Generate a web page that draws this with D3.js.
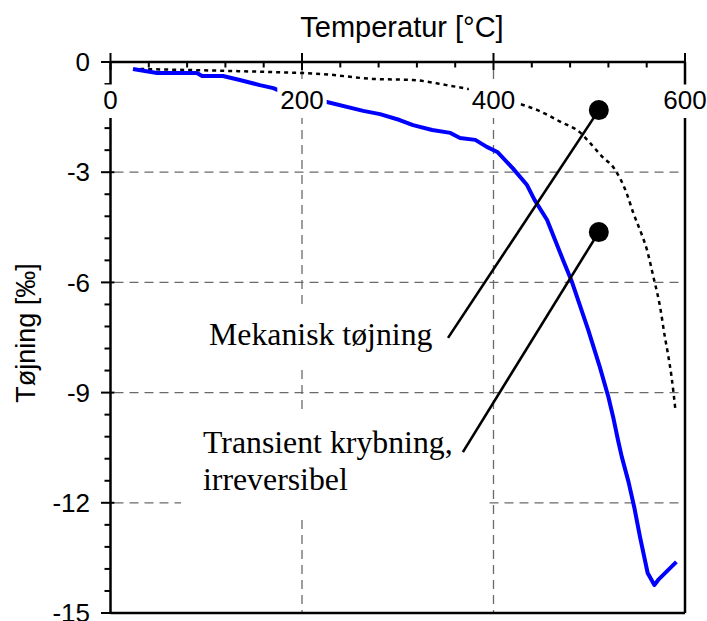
<!DOCTYPE html>
<html>
<head>
<meta charset="utf-8">
<script src="https://cdn.jsdelivr.net/npm/d3@7"></script>
<style>
  html, body { margin: 0; padding: 0; background: #fff; }
  svg { display: block; }
</style>
</head>
<body>
<svg id="chart" width="707" height="621"></svg>
<script>
// Axis ticks and gridlines
const temperatureTicks = [0, 200, 400, 600];
const strainTicks = [0, -3, -6, -9, -12, -15];
const gridTemps = [200, 400];
const gridStrains = [-3, -6, -9, -12];

// Solid blue curve: temperature [°C] and strain [‰]
const solidTemp   = [23.5, 48.6, 90.3, 95.6, 117.5, 135, 156, 170, 180, 226, 264, 281.5, 302, 316, 336, 355, 365, 381, 393, 404, 420, 435, 443, 456, 472.6, 482, 499, 511, 520, 525, 530, 534, 541, 547, 553, 561, 568, 572, 591];
const solidStrain = [-0.19, -0.30, -0.30, -0.38, -0.38, -0.49, -0.63, -0.71, -0.82, -1.09, -1.33, -1.42, -1.58, -1.72, -1.85, -1.93, -2.07, -2.12, -2.31, -2.45, -2.89, -3.35, -3.76, -4.30, -5.39, -5.99, -7.30, -8.30, -9.12, -9.67, -10.29, -10.75, -11.43, -12.12, -12.93, -13.91, -14.24, -14.10, -13.61];

// Dotted black curve
const dottedTemp   = [31, 163, 200, 222, 274, 316, 351, 378, 425, 446, 470, 490, 501, 514, 525, 539, 546, 555, 560, 567, 574, 579, 582, 586, 590];
const dottedStrain = [-0.19, -0.27, -0.30, -0.33, -0.46, -0.49, -0.63, -0.76, -1.12, -1.31, -1.63, -1.91, -2.21, -2.59, -2.86, -3.57, -4.11, -4.71, -5.09, -5.85, -6.67, -7.49, -7.92, -8.58, -9.47];

// Callout annotations: label lines, marker point and line tail (data units)
const calloutLines  = [["Mekanisk tøjning"], ["Transient krybning,", "irreversibel"]];
const calloutTemp   = [510, 510];
const calloutStrain = [-1.31, -4.63];
const tailTemp      = [352.5, 368];
const tailStrain    = [-7.51, -10.62];

const svg = d3.select("#chart");
const x = d3.scaleLinear().domain([0, 600]).range([110.5, 685]);
const y = d3.scaleLinear().domain([0, -15]).range([62, 613]);

const SANS = "'Liberation Sans', Arial, sans-serif";
const SERIF = "'Liberation Serif', 'Times New Roman', serif";

// Dashed gridlines
const grid = svg.append("g")
  .attr("stroke", "#6a6a6a").attr("stroke-width", 1.3).attr("stroke-dasharray", "9,6");
grid.selectAll("line.h").data(gridStrains).join("line")
  .attr("x1", x(0) + 4).attr("x2", x(600))
  .attr("y1", d => y(d)).attr("y2", d => y(d));
grid.selectAll("line.v").data(gridTemps).join("line")
  .attr("x1", d => x(d)).attr("x2", d => x(d))
  .attr("y1", y(0) + 8).attr("y2", y(-15));

// Annotation text blocks with white backing
const labelLayout = [
  { left: 209, baseline: 345, padL: 22, padR: 22, padT: 12, padB: 17 },
  { left: 203, baseline: 453, padL: 22, padR: 34, padT: 16, padB: 17 }
];
calloutLines.forEach((lines, i) => {
  const L = labelLayout[i];
  const g = svg.append("g");
  const t = g.append("text")
    .attr("font-family", SERIF).attr("font-size", 31.8).attr("fill", "#000");
  lines.forEach((s, k) => {
    t.append("tspan").attr("x", L.left).attr("y", L.baseline + k * 37).text(s);
  });
  const bb = t.node().getBBox();
  g.insert("rect", "text")
    .attr("x", bb.x - L.padL).attr("y", bb.y - L.padT)
    .attr("width", bb.width + L.padL + L.padR).attr("height", bb.height + L.padT + L.padB)
    .attr("fill", "#fff");
});

// Curves
const dottedGen = d3.line().x(d => x(d[0])).y(d => y(d[1])).curve(d3.curveMonotoneX);
const solidGen = d3.line().x(d => x(d[0])).y(d => y(d[1]));
svg.append("path")
  .datum(dottedTemp.map((t, i) => [t, dottedStrain[i]]))
  .attr("d", dottedGen)
  .attr("fill", "none").attr("stroke", "#000").attr("stroke-width", 2.5)
  .attr("stroke-dasharray", "4,4");
svg.append("path")
  .datum(solidTemp.map((t, i) => [t, solidStrain[i]]))
  .attr("d", solidGen)
  .attr("fill", "none").attr("stroke", "#0000ff").attr("stroke-width", 4)
  .attr("stroke-linejoin", "round");

// Frame and ticks
const axes = svg.append("g").attr("stroke", "#000").attr("stroke-width", 2.5).attr("fill", "none");
axes.append("line").attr("x1", x(0)).attr("x2", x(600)).attr("y1", y(0)).attr("y2", y(0));
axes.append("line").attr("x1", x(0)).attr("x2", x(600)).attr("y1", y(-15)).attr("y2", y(-15));
axes.append("line").attr("x1", x(0)).attr("x2", x(0)).attr("y1", y(0)).attr("y2", y(-15));
axes.append("line").attr("x1", x(600)).attr("x2", x(600)).attr("y1", y(0)).attr("y2", y(-15));

axes.selectAll("line.xmaj").data(temperatureTicks).join("line")
  .attr("x1", d => x(d)).attr("x2", d => x(d))
  .attr("y1", y(0) - 9).attr("y2", y(0) + 8).attr("stroke-width", 2);
const minorT = d3.range(40, 600, 40).filter(t => t % 200 !== 0);
axes.selectAll("line.xmin").data(minorT).join("line")
  .attr("x1", d => x(d)).attr("x2", d => x(d))
  .attr("y1", y(0)).attr("y2", y(0) + 5.5).attr("stroke-width", 2);

axes.selectAll("line.ymaj").data(strainTicks).join("line")
  .attr("x1", x(0) - 9.5).attr("x2", x(0) + 4)
  .attr("y1", d => y(d)).attr("y2", d => y(d)).attr("stroke-width", 2);
const minorS = d3.range(1, 25).map(k => -0.6 * k).filter((s, k) => (k + 1) % 5 !== 0);
axes.selectAll("line.ymin").data(minorS).join("line")
  .attr("x1", x(0) - 6).attr("x2", x(0))
  .attr("y1", d => y(d)).attr("y2", d => y(d)).attr("stroke-width", 2);

// Callout leader lines and markers
calloutTemp.forEach((t, i) => {
  svg.append("line")
    .attr("x1", x(tailTemp[i])).attr("y1", y(tailStrain[i]))
    .attr("x2", x(t)).attr("y2", y(calloutStrain[i]))
    .attr("stroke", "#000").attr("stroke-width", 2.6);
  svg.append("circle")
    .attr("cx", x(t)).attr("cy", y(calloutStrain[i])).attr("r", 10)
    .attr("fill", "#000");
});

// Tick labels
svg.append("g").selectAll("text").data(strainTicks).join("text")
  .attr("x", x(0) - 20.5).attr("y", d => y(d)).attr("dy", "0.35em")
  .attr("text-anchor", "end")
  .attr("font-family", SANS).attr("font-size", 26)
  .text(d => String(d));

const xLabels = svg.append("g").selectAll("g").data(temperatureTicks).join("g");
xLabels.append("text")
  .attr("x", d => x(d)).attr("y", 109)
  .attr("text-anchor", "middle")
  .attr("font-family", SANS).attr("font-size", 26)
  .text(d => String(d));
xLabels.each(function() {
  const g = d3.select(this);
  const bb = g.select("text").node().getBBox();
  g.insert("rect", "text")
    .attr("x", bb.x - 3).attr("y", bb.y - 0.5)
    .attr("width", bb.width + 6).attr("height", bb.height + 3.5)
    .attr("fill", "#fff");
});

// Axis titles
svg.append("text")
  .attr("x", 402).attr("y", 37).attr("text-anchor", "middle")
  .attr("font-family", SANS).attr("font-size", 29)
  .text("Temperatur [°C]");
svg.append("text")
  .attr("transform", "translate(35,333) rotate(-90)")
  .attr("text-anchor", "middle")
  .attr("font-family", SANS).attr("font-size", 27)
  .text("Tøjning [‰]");
</script>
</body>
</html>
